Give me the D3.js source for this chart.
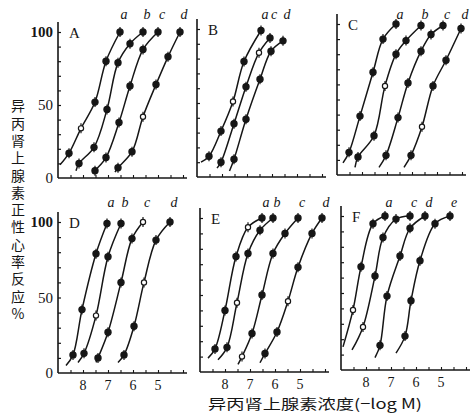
<!DOCTYPE html>
<html>
<head>
<meta charset="utf-8">
<script src="https://cdn.jsdelivr.net/npm/d3@7"></script>
<style>
  body { margin: 0; background: #fff; }
  svg { display: block; }
</style>
</head>
<body>
<div id="chart"></div>
<script>
// panels and curve names
const panelNames = ["A", "B", "C", "D", "E", "F"];
const curveNames = [
    ["a", "b", "c", "d"],
    ["a", "c", "d"],
    ["a", "b", "c", "d"],
    ["a", "b", "c", "d"],
    ["a", "b", "c", "d"],
    ["a", "c", "d", "e"]
];

// -log M for each curve; first value is where the drawn line starts (no marker)
const doseA = [
    [8.92, 8.56, 8.08, 7.52, 7.08, 6.52],
    [8.28, 8.16, 7.56, 7.04, 6.6, 6.12, 5.6],
    [7.6, 7.52, 7.08, 6.56, 6.12, 5.6, 5.0],
    [6.72, 6.6, 6.04, 5.6, 5.08, 4.6, 4.12]
];
const respA = [
    [9, 17, 34, 52, 80, 100],
    [5, 10, 21, 47, 79, 92, 100],
    [3, 5, 14, 38, 63, 88, 100],
    [4, 7, 18, 42, 64, 83, 100]
];
const openA = [[2], [], [], [3]];

const doseB = [
    [8.84, 8.52, 8.04, 7.56, 7.12, 6.44],
    [8.2, 8.04, 7.52, 7.04, 6.52, 6.08],
    [7.7, 7.52, 7.04, 6.48, 6.04, 5.56]
];
const respB = [
    [10, 14, 31, 51, 78, 99],
    [6, 10, 36, 61, 84, 94],
    [4, 12, 39, 66, 85, 92]
];
const openB = [[3], [4], []];

const doseC = [
    [8.76, 8.52, 8.08, 7.56, 7.16, 6.64],
    [8.28, 8.16, 7.52, 7.08, 6.64, 6.24, 5.64],
    [7.32, 7.04, 6.56, 6.16, 5.64, 5.24, 4.76],
    [6.32, 6.04, 5.6, 5.16, 4.64, 4.04]
];
const respC = [
    [8, 15, 39, 68, 90, 100],
    [5, 12, 26, 59, 80, 89, 99],
    [5, 13, 38, 61, 82, 93, 99],
    [5, 13, 32, 59, 76, 97]
];
const openC = [[], [3], [], [2]];

const doseD = [
    [8.68, 8.4, 8.04, 7.48, 7.04],
    [8.2, 7.96, 7.48, 7.0, 6.48],
    [7.48, 7.4, 7.0, 6.48, 6.04, 5.6],
    [6.6, 6.36, 5.96, 5.56, 5.08, 4.52]
];
const respD = [
    [5, 12, 42, 79, 99],
    [7, 13, 38, 77, 99],
    [7, 10, 27, 60, 89, 100],
    [7, 12, 31, 60, 88, 100]
];
const openD = [[], [2], [5], [3]];

const doseE = [
    [8.68, 8.4, 8.0, 7.56, 7.08, 6.52],
    [8.28, 7.92, 7.52, 7.08, 6.6, 6.08],
    [7.48, 7.32, 6.92, 6.52, 6.08, 5.6, 5.08],
    [6.6, 6.4, 5.92, 5.48, 5.08, 4.52, 4.12]
];
const respE = [
    [9, 15, 40, 75, 94, 100],
    [8, 16, 45, 77, 92, 100],
    [5, 10, 25, 50, 77, 90, 100],
    [6, 12, 26, 46, 68, 90, 100]
];
const openE = [[4], [2], [1], [3]];

const doseF = [
    [8.92, 8.52, 8.2, 7.72, 7.24],
    [8.56, 8.12, 7.64, 7.32, 6.8, 6.24],
    [7.64, 7.44, 7.16, 6.64, 6.24, 5.64],
    [6.8, 6.44, 6.2, 5.84, 5.24, 4.64]
];
const respF = [
    [15, 39, 67, 95, 100],
    [13, 28, 61, 86, 98, 100],
    [8, 16, 48, 74, 92, 100],
    [11, 22, 45, 71, 95, 100]
];
const openF = [[1], [1], [], []];

const doses = [doseA, doseB, doseC, doseD, doseE, doseF];
const resps = [respA, respB, respC, respD, respE, respF];
const opens = [openA, openB, openC, openD, openE, openF];

const yTickLabels = [0, 50, 100];
const xTickLabels = [8, 7, 6, 5];
const yLabel = "异丙肾上腺素正性心率反应%";
const xLabel = "异丙肾上腺素浓度(−log M)";

// panel placement (scan is slightly skewed, so each panel has its own frame)
const frames = [
    { x0: 58, y0: 178, y100: 32 },
    { x0: 197, y0: 177, y100: 29 },
    { x0: 337, y0: 175, y100: 24 },
    { x0: 58, y0: 373, y100: 222 },
    { x0: 200, y0: 372, y100: 218 },
    { x0: 341, y0: 370, y100: 216 }
];
const panelW = 129;
const ink = "#161616";
const serif = "'Liberation Serif', 'DejaVu Serif', serif";
const cjk = "'Noto Sans CJK SC', sans-serif";

const svg = d3.select("#chart").append("svg")
    .attr("width", 471)
    .attr("height", 415)
    .style("background", "#fff");

panelNames.forEach((name, p) => {
    const f = frames[p];
    const x = d3.scaleLinear().domain([9, 9 - panelW / 25]).range([f.x0, f.x0 + panelW]);
    const y = d3.scaleLinear().domain([0, 100]).range([f.y0, f.y100]);
    const g = svg.append("g").attr("class", "panel" + name);

    // spines
    g.append("line")
        .attr("x1", f.x0).attr("x2", f.x0)
        .attr("y1", f.y0).attr("y2", f.y100 - 10)
        .attr("stroke", ink).attr("stroke-width", 1.6);
    g.append("line")
        .attr("x1", f.x0).attr("x2", f.x0 + panelW)
        .attr("y1", f.y0).attr("y2", f.y0)
        .attr("stroke", ink).attr("stroke-width", 1.6);

    // inner ticks
    const yAxis = g.append("g")
        .attr("transform", `translate(${f.x0},0)`)
        .call(d3.axisRight(y).tickValues(d3.range(10, 101, 10)).tickSize(3).tickFormat(""));
    yAxis.select(".domain").remove();
    yAxis.selectAll("line").attr("stroke", ink).attr("stroke-width", 1.2);

    const xAxis = g.append("g")
        .attr("transform", `translate(0,${f.y0})`)
        .call(d3.axisTop(x).tickValues(d3.range(8.5, 3.9, -0.5)).tickSize(3).tickFormat(""));
    xAxis.select(".domain").remove();
    xAxis.selectAll("line").attr("stroke", ink).attr("stroke-width", 1.1);

    // tick labels on outer panels
    if (p % 3 === 0) {
        g.selectAll(".ylab").data(yTickLabels).enter().append("text")
            .attr("x", f.x0 - 5)
            .attr("y", d => y(d) + 5)
            .attr("text-anchor", "end")
            .style("font-family", serif)
            .style("font-size", "15px")
            .style("font-weight", d => d === 100 ? "bold" : "normal")
            .attr("fill", ink)
            .text(d => d);
    }
    if (p >= 3) {
        g.selectAll(".xlab").data(xTickLabels).enter().append("text")
            .attr("x", d => x(d))
            .attr("y", f.y0 + 17)
            .attr("text-anchor", "middle")
            .style("font-family", serif)
            .style("font-size", "14px")
            .attr("fill", ink)
            .text(d => d);
    }

    // panel letter
    g.append("text")
        .attr("x", f.x0 + 11)
        .attr("y", f.y100 + 6)
        .style("font-family", serif)
        .style("font-size", "15px")
        .attr("fill", ink)
        .text(name);

    const line = d3.line()
        .x(d => x(d[0]))
        .y(d => y(d[1]))
        .curve(d3.curveCatmullRom.alpha(0.5));

    curveNames[p].forEach((cn, c) => {
        const pts = d3.zip(doses[p][c], resps[p][c]);
        g.append("path")
            .datum(pts)
            .attr("d", line)
            .attr("fill", "none")
            .attr("stroke", ink)
            .attr("stroke-width", 1.5);

        const marks = pts.slice(1).map((d, i) => ({ d: d, open: opens[p][c].includes(i + 1) }));
        // error bars
        g.selectAll(null).data(marks).enter().append("line")
            .attr("x1", m => x(m.d[0])).attr("x2", m => x(m.d[0]))
            .attr("y1", m => y(m.d[1]) - 5).attr("y2", m => y(m.d[1]) + 5)
            .attr("stroke", ink).attr("stroke-width", 1.2);
        g.selectAll(null).data(marks).enter().append("circle")
            .attr("cx", m => x(m.d[0]))
            .attr("cy", m => y(m.d[1]))
            .attr("r", m => m.open ? 2.6 : 3.1)
            .attr("fill", m => m.open ? "#fff" : ink)
            .attr("stroke", ink)
            .attr("stroke-width", 1.2);

        // curve letter above the top of the curve
        const last = pts[pts.length - 1];
        g.append("text")
            .attr("x", x(last[0]) + 4)
            .attr("y", p < 3 ? 19 : 207)
            .attr("text-anchor", "middle")
            .style("font-family", serif)
            .style("font-style", "italic")
            .style("font-size", "14px")
            .attr("fill", ink)
            .text(cn);
    });
});

// vertical Chinese y label, one text run written top to bottom
svg.append("text")
    .attr("x", 18)
    .attr("y", 99)
    .style("writing-mode", "vertical-rl")
    .style("text-orientation", "upright")
    .style("letter-spacing", "3.3px")
    .style("font-family", cjk)
    .style("font-size", "14px")
    .attr("fill", ink)
    .text(yLabel);

svg.append("text")
    .attr("x", 208)
    .attr("y", 409)
    .attr("textLength", 214)
    .attr("lengthAdjust", "spacingAndGlyphs")
    .style("font-family", cjk)
    .style("font-size", "14px")
    .attr("fill", ink)
    .text(xLabel);
</script>
</body>
</html>
